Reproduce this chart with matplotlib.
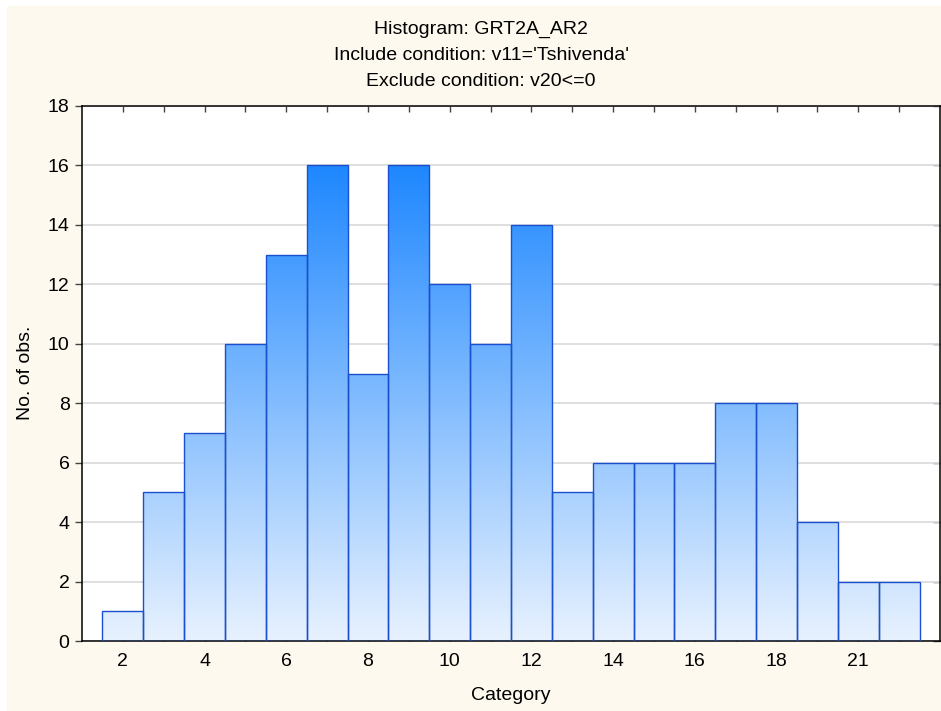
import numpy as np
import matplotlib
matplotlib.use("Agg")
import matplotlib.pyplot as plt
from matplotlib.colors import LinearSegmentedColormap
from matplotlib.patches import Rectangle

plt.rcParams['font.family'] = ['Liberation Sans', 'DejaVu Sans']

categories = ['2', '3', '4', '5', '6', '7', '8', '9', '10', '11', '12', '13',
              '14', '15', '16', '17', '18', '19', '21', '22']
counts = [1, 5, 7, 10, 13, 16, 9, 16, 12, 10, 14, 5, 6, 6, 6, 8, 8, 4, 2, 2]
title_lines = ["Histogram: GRT2A_AR2",
               "Include condition: v11='Tshivenda'",
               "Exclude condition: v20<=0"]
xlabel = "Category"
ylabel = "No. of obs."

W, H = 941, 711
FS = 14
fig = plt.figure(figsize=(W / 100, H / 100), dpi=100, facecolor='white')
# cream background panel (white strip on top and left)
fig.patches.append(Rectangle((7 / W, 0), 1, 1 - 6 / H, transform=fig.transFigure,
                             facecolor='#fdf9ee', edgecolor='none', zorder=-10))

ax = fig.add_axes([82 / W, (H - 641) / H, (940 - 82) / W, (641 - 106) / H])
ax.set_facecolor('white')

cmap = LinearSegmentedColormap.from_list('grad', ['#e8f2fe', '#1e87ff'])
x = np.arange(len(counts))
ymax_grad = max(counts)
grad = np.linspace(0, 1, 256).reshape(-1, 1)
bars = ax.bar(x, counts, width=1.0, facecolor='none', edgecolor='#1a4fd0',
              linewidth=1.0, zorder=3)
for b in bars:
    im = ax.imshow(grad, cmap=cmap, origin='lower', aspect='auto',
                   extent=(b.get_x(), b.get_x() + b.get_width(), 0, ymax_grad),
                   vmin=0, vmax=1, zorder=2, interpolation='bilinear')
    im.set_clip_path(b)

ax.set_xlim(-1, len(counts))
ax.set_ylim(0, 18)
ax.set_yticks(np.arange(0, 19, 2))
ax.yaxis.grid(True, color='#dcdcdc', linewidth=1.3, zorder=0)
ax.set_axisbelow(True)

ax.set_xticks(x)
ax.set_xticklabels([c if i % 2 == 0 else '' for i, c in enumerate(categories)])

ax.tick_params(axis='x', which='both', direction='in', top=True, bottom=True,
               length=4, width=1, color='#444444', labelsize=FS, pad=9)
ax.tick_params(axis='y', which='both', direction='out', left=True, right=False,
               length=5, width=1, color='#444444', labelsize=FS, pad=4)
# right spine ticks inward
sec = ax.secondary_yaxis('right')
sec.set_yticks(np.arange(0, 19, 2))
sec.tick_params(direction='in', length=5, width=1, color='#444444', labelright=False)
sec.spines['right'].set_visible(False)

for s in ax.spines.values():
    s.set_linewidth(1.1)
    s.set_color('black')

fig.text(82 / W + (940 - 82) / W / 2, (H - 695) / H, xlabel, ha='center', va='center', fontsize=FS)
fig.text(26 / W, (H - 373) / H, ylabel, ha='center', va='center', rotation=90, fontsize=FS)
for i, t in enumerate(title_lines):
    fig.text(481 / W, (H - (29 + 26 * i)) / H, t, ha='center', va='center', fontsize=FS)

fig.savefig('out.png', dpi=100, facecolor=fig.get_facecolor())
